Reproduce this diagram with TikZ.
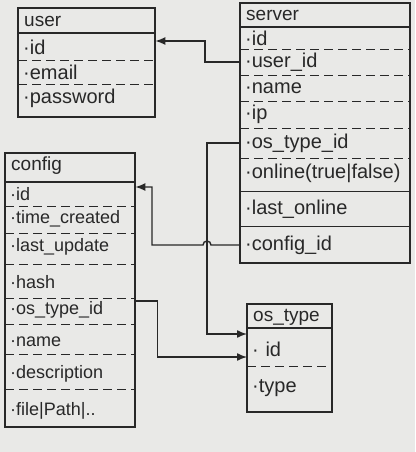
\documentclass[tikz,border=0pt]{standalone}
\usepackage{fontspec}
\setmainfont{Liberation Sans}
\usetikzlibrary{arrows.meta}
\definecolor{paper}{RGB}{233,233,231}
\definecolor{ink}{RGB}{40,40,40}

\tikzset{
  field/.style={anchor=west, text width=#1, inner xsep=5pt, inner ysep=0pt, align=left, font=\fontsize{20}{22}\selectfont, text=ink},
  narrow/.style={font=\fontsize{18}{20}\selectfont},
  title/.style={anchor=west, inner sep=0pt, font=\fontsize{19}{21}\selectfont, text=ink},
  sep/.style={ink, line width=0.8pt, dash pattern=on 9pt off 5pt},
  rule/.style={ink, line width=0.9pt},
  box/.style={ink, line width=1.1pt},
  link/.style={->, ink, line width=1.4pt}
}

\begin{document}
\begin{tikzpicture}[x=1pt, y=-1pt, >={Latex[length=10pt, width=8pt]}]

    \fill[paper] (0, 0) rectangle (415, 452);
    \useasboundingbox (0, 0) rectangle (415, 452);

    % user
    \draw[box] (18, 8) rectangle (155, 117);
    \draw[box] (18, 33) -- (155, 33);
    \node[title] (u0) at (24, 21) {user};
    \node[field=127pt] (u1) at (18, 47) {·id};
    \node[field=127pt] (u2) at (18, 72) {·email};
    \node[field=127pt] (u3) at (18, 98) {·password};
    \draw[sep] (18, 60) -- (155, 60);
    \draw[sep] (18, 84) -- (155, 84);

    % server
    \draw[box] (240, 3) rectangle (410, 263);
    \draw[box] (240, 27) -- (410, 27);
    \node[title] (s0) at (246, 15) {server};
    \node[field=160pt] (s1) at (240, 38) {·id};
    \node[field=160pt] (s2) at (240, 62) {·user\_id};
    \node[field=160pt] (s3) at (240, 88) {·name};
    \node[field=160pt] (s4) at (240, 114) {·ip};
    \node[field=160pt] (s5) at (240, 143) {·os\_type\_id};
    \node[field=160pt] (s6) at (240, 173) {·online(true|false)};
    \node[field=160pt] (s7) at (240, 209) {·last\_online};
    \node[field=160pt] (s8) at (240, 245) {·config\_id};
    \draw[sep] (240, 49) -- (410, 49);
    \draw[sep] (240, 75) -- (410, 75);
    \draw[sep] (240, 101) -- (410, 101);
    \draw[sep] (240, 128) -- (410, 128);
    \draw[sep] (240, 158) -- (410, 158);
    \draw[rule] (240, 191) -- (410, 191);
    \draw[rule] (240, 226) -- (410, 226);

    % config
    \draw[box] (5, 153) rectangle (135, 427);
    \draw[box] (5, 182) -- (135, 182);
    \node[title] (c0) at (11, 166) {config};
    \node[field=120pt, narrow] (c1) at (5, 194) {·id};
    \node[field=120pt, narrow] (c2) at (5, 219) {·time\_created};
    \node[field=120pt, narrow] (c3) at (5, 247) {·last\_update};
    \node[field=120pt, narrow] (c4) at (5, 282) {·hash};
    \node[field=120pt, narrow] (c5) at (5, 310) {·os\_type\_id};
    \node[field=120pt, narrow] (c6) at (5, 342) {·name};
    \node[field=120pt, narrow] (c7) at (5, 374) {·description};
    \node[field=120pt, narrow] (c8) at (5, 411) {·file|Path|..};
    \draw[sep] (5, 206) -- (135, 206);
    \draw[sep] (5, 233) -- (135, 233);
    \draw[sep] (5, 264) -- (135, 264);
    \draw[sep] (5, 298) -- (135, 298);
    \draw[sep] (5, 324) -- (135, 324);
    \draw[sep] (5, 354) -- (135, 354);
    \draw[sep] (5, 389) -- (135, 389);

    % os_type
    \draw[box] (247, 304) rectangle (332, 412);
    \draw[box] (247, 328) -- (332, 328);
    \node[title] (o0) at (253, 317) {os\_type};
    \node[field=75pt] (o1) at (247, 349) {· id};
    \node[field=75pt] (o2) at (247, 388) {·type};
    \draw[sep] (247, 366) -- (332, 366);

    % links
    \draw[link] (s2.west) -- ++(-35, 0) |- ([yshift=6pt]u1.east);
    \draw[link] (s8.west) -- (211, 245) arc (0:-180:4) -- (152, 245) |- ([yshift=7pt]c1.east);
    \draw[link] (s5.west) -- ++(-33, 0) |- ([yshift=15pt]o1.west);
    \draw[link] ([yshift=9pt]c5.east) -- ++(22, 0) |- ([yshift=-8pt]o1.west);

\end{tikzpicture}
\end{document}
